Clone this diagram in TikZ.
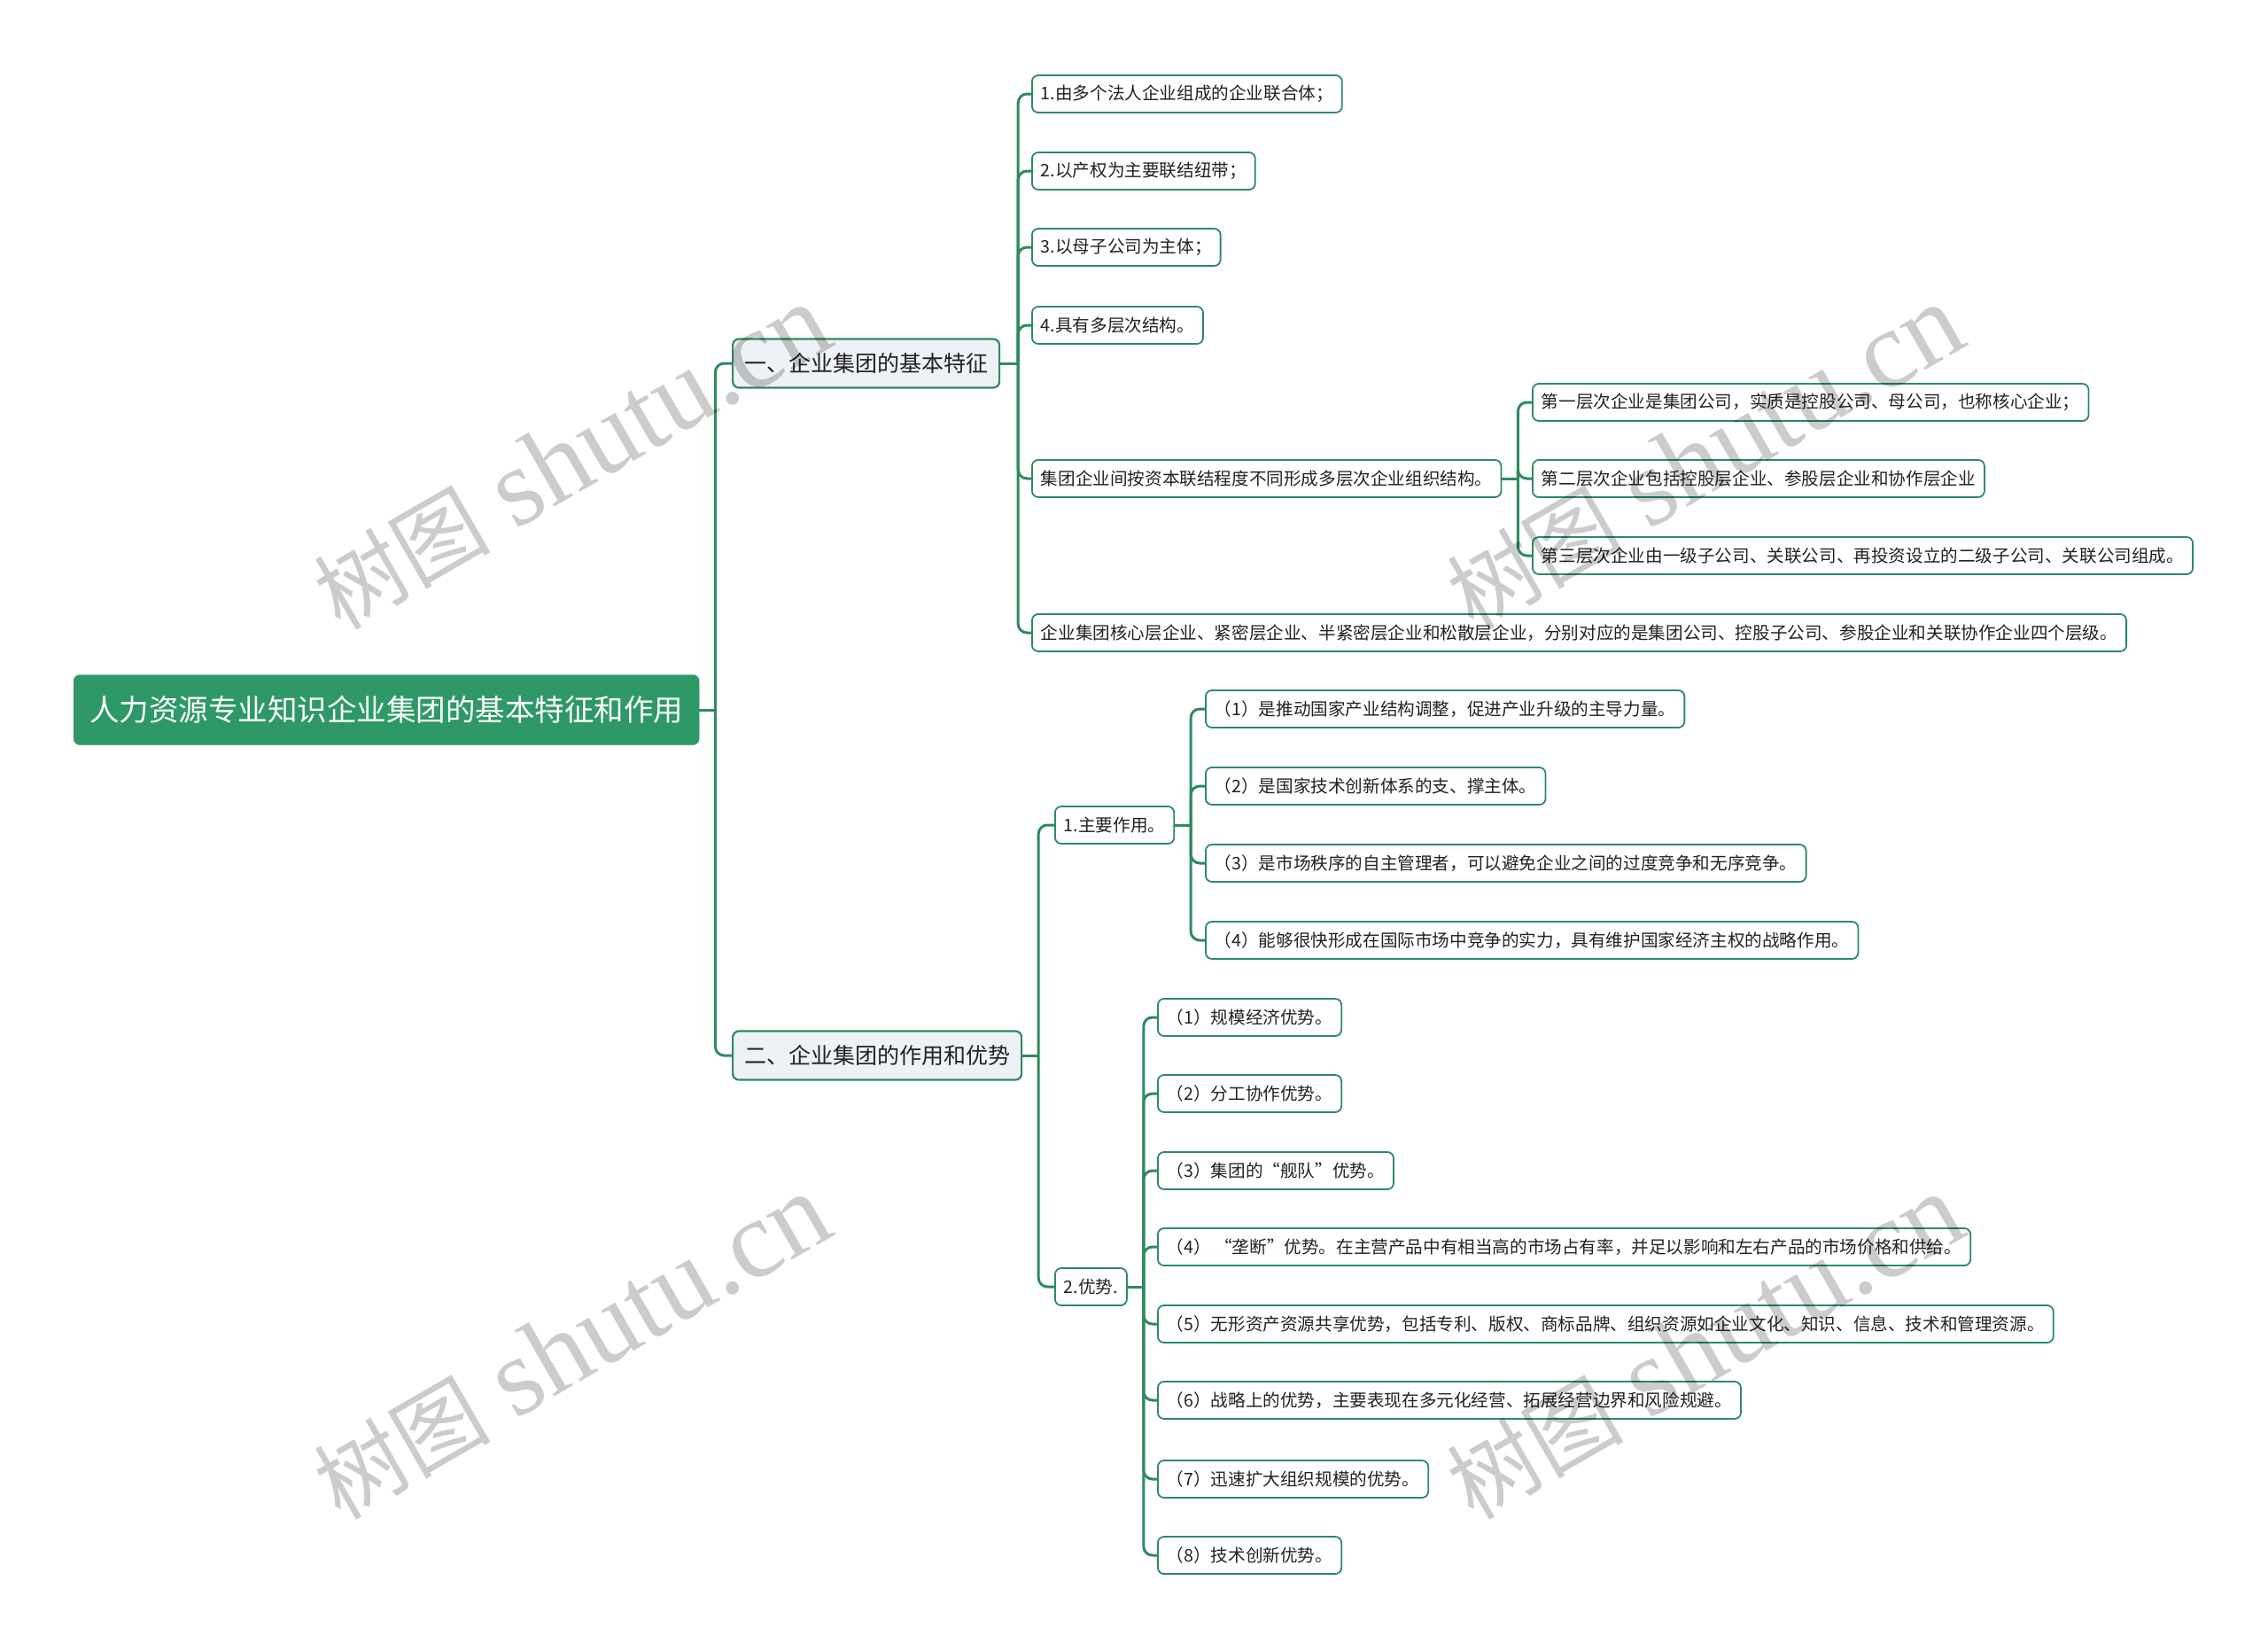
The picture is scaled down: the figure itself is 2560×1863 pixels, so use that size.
\documentclass[tikz,border=0pt]{standalone}
\usepackage{fontspec}
\newfontfamily\cjk{Noto Sans CJK SC}
\newfontfamily\wmserif{Liberation Serif}
\definecolor{lineg}{HTML}{2E8B5E}
\definecolor{rootg}{HTML}{2E9966}
\definecolor{lvone}{HTML}{EEF1F5}
\definecolor{txt}{HTML}{222222}
\begin{document}
\begin{tikzpicture}[x=1pt,y=-1pt,
  rootbox/.style={draw=rootg, fill=rootg, rounded corners=7pt, text=white,
    font=\cjk\fontsize{33.5}{40}\selectfont, inner xsep=18pt, inner ysep=0pt,
    minimum height=79pt, anchor=west},
  lvonebox/.style={draw=lineg, line width=2.2pt, fill=lvone, rounded corners=7pt,
    text=txt, font=\cjk\fontsize{25}{30}\selectfont, inner xsep=13pt, inner ysep=0pt,
    minimum height=55pt, anchor=west},
  leafbox/.style={draw=lineg, line width=1.8pt, fill=white, rounded corners=7pt,
    text=txt, font=\cjk\fontsize{19.6}{24}\selectfont, inner xsep=10pt, inner ysep=0pt,
    minimum height=42pt, anchor=west},
  conn/.style={draw=lineg, line width=3pt, rounded corners=10pt},
  wmark/.style={rotate=30, text=black, opacity=0.2, inner sep=0pt}
]
\useasboundingbox (0,0) rectangle (2560,1863);

% root and first level
\node[rootbox] (root) at (83,801) {人力资源专业知识企业集团的基本特征和作用};
\node[lvonebox] (A) at (826,410) {一、企业集团的基本特征};
\node[lvonebox] (B) at (826,1191) {二、企业集团的作用和优势};

% branch A
\node[leafbox] (A1) at (1164,106) {1.由多个法人企业组成的企业联合体；};
\node[leafbox] (A2) at (1164,193) {2.以产权为主要联结纽带；};
\node[leafbox] (A3) at (1164,279) {3.以母子公司为主体；};
\node[leafbox] (A4) at (1164,367) {4.具有多层次结构。};
\node[leafbox] (A5) at (1164,540) {集团企业间按资本联结程度不同形成多层次企业组织结构。};
\node[leafbox] (A6) at (1164,714) {企业集团核心层企业、紧密层企业、半紧密层企业和松散层企业，分别对应的是集团公司、控股子公司、参股企业和关联协作企业四个层级。};
\node[leafbox] (A51) at (1729,454) {第一层次企业是集团公司，实质是控股公司、母公司，也称核心企业；};
\node[leafbox] (A52) at (1729,540) {第二层次企业包括控股层企业、参股层企业和协作层企业};
\node[leafbox] (A53) at (1729,627) {第三层次企业由一级子公司、关联公司、再投资设立的二级子公司、关联公司组成。};

% branch B
\node[leafbox] (B1) at (1190,931) {1.主要作用。};
\node[leafbox] (B2) at (1190,1452) {2.优势.};
\node[leafbox] (B11) at (1360,800) {（1）是推动国家产业结构调整，促进产业升级的主导力量。};
\node[leafbox] (B12) at (1360,887) {（2）是国家技术创新体系的支、撑主体。};
\node[leafbox] (B13) at (1360,974) {（3）是市场秩序的自主管理者，可以避免企业之间的过度竞争和无序竞争。};
\node[leafbox] (B14) at (1360,1061) {（4）能够很快形成在国际市场中竞争的实力，具有维护国家经济主权的战略作用。};
\node[leafbox] (B21) at (1306,1148) {（1）规模经济优势。};
\node[leafbox] (B22) at (1306,1234) {（2）分工协作优势。};
\node[leafbox] (B23) at (1306,1321) {（3）集团的“舰队”优势。};
\node[leafbox] (B24) at (1306,1407) {（4） “垄断”优势。在主营产品中有相当高的市场占有率，并足以影响和左右产品的市场价格和供给。};
\node[leafbox] (B25) at (1306,1494) {（5）无形资产资源共享优势，包括专利、版权、商标品牌、组织资源如企业文化、知识、信息、技术和管理资源。};
\node[leafbox] (B26) at (1306,1580) {（6）战略上的优势，主要表现在多元化经营、拓展经营边界和风险规避。};
\node[leafbox] (B27) at (1306,1669) {（7）迅速扩大组织规模的优势。};
\node[leafbox] (B28) at (1306,1755) {（8）技术创新优势。};

% connectors
\coordinate (rt) at ([xshift=18pt]root.east);
\draw[conn] (root.east) -- (rt);
\foreach \c in {A,B} \draw[conn] (rt) |- (\c.west);

\coordinate (at) at ([xshift=20pt]A.east);
\draw[conn] (A.east) -- (at);
\foreach \c in {A1,A2,A3,A4,A5,A6} \draw[conn] (at) |- (\c.west);

\coordinate (a5t) at ([xshift=18pt]A5.east);
\draw[conn] (A5.east) -- (a5t);
\foreach \c in {A51,A52,A53} \draw[conn] (a5t) |- (\c.west);

\coordinate (bt) at ([xshift=18pt]B.east);
\draw[conn] (B.east) -- (bt);
\foreach \c in {B1,B2} \draw[conn] (bt) |- (\c.west);

\coordinate (b1t) at ([xshift=18pt]B1.east);
\draw[conn] (B1.east) -- (b1t);
\foreach \c in {B11,B12,B13,B14} \draw[conn] (b1t) |- (\c.west);

\coordinate (b2t) at ([xshift=18pt]B2.east);
\draw[conn] (B2.east) -- (b2t);
\foreach \c in {B21,B22,B23,B24,B25,B26,B27,B28} \draw[conn] (b2t) |- (\c.west);

% watermarks
\foreach \wx/\wy [count=\i] in {645/516, 1924/516, 645/1520, 1924/1520}
  \node[wmark] (wm\i) at (\wx,\wy) {{\cjk\fontsize{100}{100}\selectfont 树图}\hspace{28pt}{\wmserif\fontsize{125}{125}\selectfont shutu.cn}};
\end{tikzpicture}
\end{document}
